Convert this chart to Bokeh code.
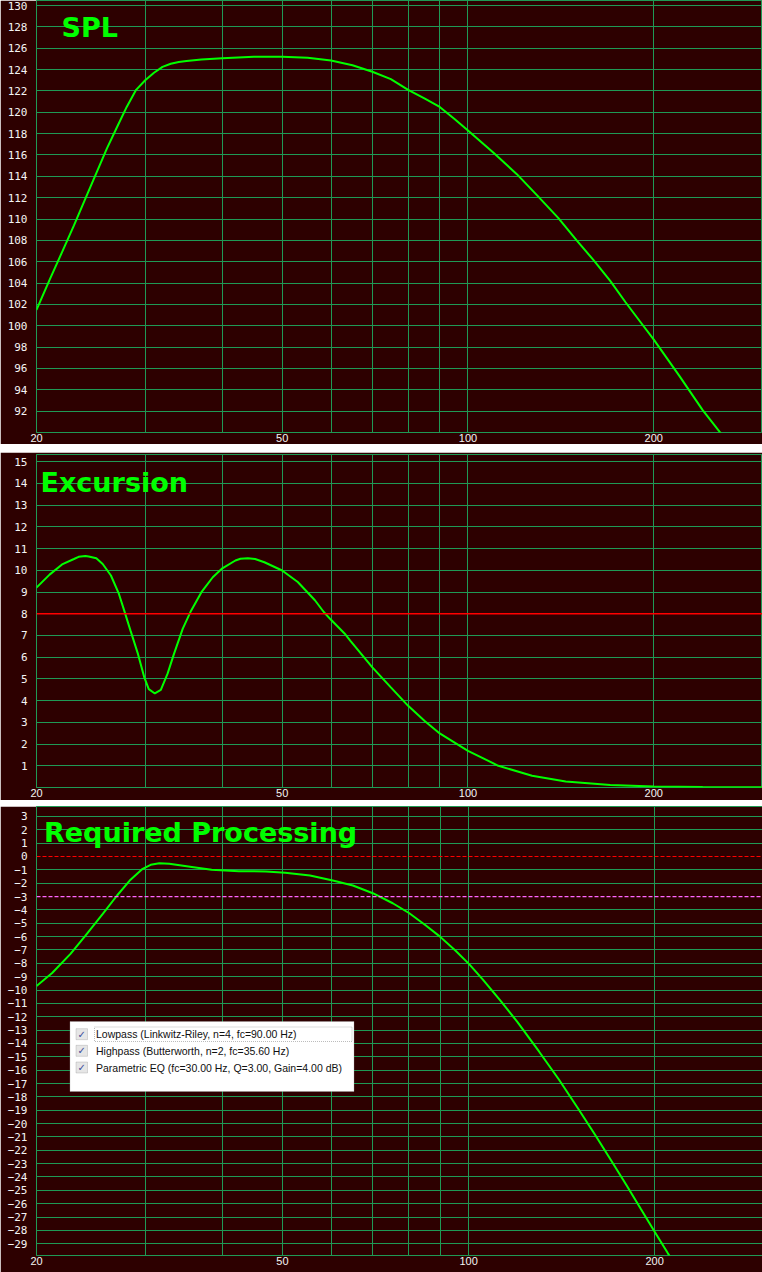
from bokeh.plotting import figure
from bokeh.models import FixedTicker, NumeralTickFormatter, Span, Label, BoxAnnotation, Spacer
from bokeh.layouts import column
from bokeh.embed import file_html
from bokeh.resources import INLINE

# ---------------- data ----------------
spl_freq = [20, 21, 22, 23, 24, 25, 26, 27, 28, 29, 30, 31, 32, 33, 34, 35, 37, 40, 45,
            50, 55, 60, 65, 70, 75, 80, 85, 90, 95, 100, 110, 120, 130, 140, 150, 160,
            170, 180, 190, 200, 220, 240, 257, 262]
spl_db = [101.5, 104.3, 106.9, 109.4, 111.9, 114.3, 116.6, 118.6, 120.5, 122.1, 123.0,
          123.7, 124.25, 124.55, 124.7, 124.8, 124.95, 125.05, 125.2, 125.2, 125.1, 124.85,
          124.4, 123.8, 123.1, 122.1, 121.3, 120.5, 119.4, 118.3, 116.2, 114.2, 112.1,
          110.1, 108.0, 106.1, 104.2, 102.2, 100.4, 98.7, 95.3, 92.1, 89.9, 89.2]

exc_freq = [20, 21, 22, 23, 23.4, 24, 24.3, 25, 25.6, 26.4, 27.2, 27.8, 28.4, 29.2, 29.9,
            30.4, 31.1, 31.8, 32.6, 33.4, 34.5, 35.6, 37, 38.6, 40, 42, 42.8, 44, 45.2,
            46.8, 50, 53, 56.5, 58.4, 60, 63.1, 64.5, 70, 75, 80, 85, 90, 100, 112, 127,
            144, 170, 200, 240, 300]
exc_mm = [9.2, 9.8, 10.27, 10.52, 10.62, 10.66, 10.63, 10.55, 10.29, 9.76, 8.91, 8.06,
          7.22, 6.15, 5.07, 4.53, 4.33, 4.49, 5.23, 6.15, 7.30, 8.14, 8.99, 9.68, 10.09,
          10.45, 10.53, 10.55, 10.52, 10.37, 9.99, 9.46, 8.62, 8.08, 7.72, 7.09, 6.75,
          5.53, 4.61, 3.76, 3.07, 2.49, 1.69, 1.00, 0.54, 0.28, 0.12, 0.05, 0.02, 0.01]

proc_freq = [20, 21.2, 22.7, 24, 25.6, 27, 28.3, 29.7, 30.6, 31.6, 32.8, 35.9, 38.4, 42.5,
             47, 50.5, 55.4, 60.3, 65, 70, 75.4, 80.2, 85.3, 89.9, 95.2, 100.3, 105.4,
             112.6, 120, 130, 140, 150, 160, 170, 180, 190, 200, 210, 216]
proc_db = [-9.7, -8.72, -7.29, -5.92, -4.29, -2.92, -1.80, -0.92, -0.62, -0.50, -0.55,
           -0.80, -1.00, -1.10, -1.12, -1.22, -1.42, -1.80, -2.17, -2.75, -3.50, -4.25,
           -5.17, -6.00, -7.04, -8.08, -9.2, -10.8, -12.4, -14.6, -16.7, -18.8, -20.8,
           -22.75, -24.6, -26.4, -28.1, -29.7, -30.6]

x_ticks = [20, 50, 100, 200]
x_minor = [30, 40, 60, 70, 80, 90]
spl_ticks = list(range(92, 131, 2))
exc_ticks = list(range(1, 16))
proc_ticks = list(range(-29, 4))
excursion_limit = 8
proc_zero = 0
proc_minus3 = -3
titles = ["SPL", "Excursion", "Required Processing"]
filters = ["Lowpass (Linkwitz-Riley, n=4, fc=90.00 Hz)",
           "Highpass (Butterworth, n=2, fc=35.60 Hz)",
           "Parametric EQ (fc=30.00 Hz, Q=3.00, Gain=4.00 dB)"]

# ---------------- style ----------------
BG = "#2d0000"
GRID = "#1f9a55"
CURVE = "#00ff00"
LABEL = "#f4f4f4"
XR = (20, 300)


def panel(left_b, frame_w, frame_h, top_b, bottom_b, y_range, y_ticks, skip=()):
    p = figure(frame_width=frame_w, frame_height=frame_h, x_axis_type="log", x_range=XR,
               y_range=y_range, output_backend="svg", toolbar_location=None,
               min_border_left=left_b, min_border_right=0, min_border_top=top_b,
               min_border_bottom=bottom_b, background_fill_color=BG, border_fill_color=BG,
               outline_line_color=GRID, outline_line_width=1)
    p.xaxis.ticker = FixedTicker(ticks=x_ticks, minor_ticks=x_minor)
    p.xaxis.formatter = NumeralTickFormatter(format="0")
    p.yaxis.ticker = FixedTicker(ticks=y_ticks)
    p.ygrid.ticker = FixedTicker(ticks=[t for t in y_ticks if t not in skip])
    for ax in (p.xaxis[0], p.yaxis[0]):
        ax.axis_line_color = None
        ax.major_tick_line_color = None
        ax.minor_tick_line_color = None
        ax.major_tick_out = 0
        ax.major_tick_in = 0
        ax.minor_tick_out = 0
        ax.major_label_text_color = LABEL
    p.xaxis.major_label_text_font = "Liberation Sans"
    p.xaxis.major_label_text_font_size = "11px"
    p.xaxis.major_label_standoff = 1
    p.yaxis.major_label_text_font = "DejaVu Sans Mono"
    p.yaxis.major_label_text_font_size = "11px"
    p.yaxis.major_label_standoff = 9
    p.xgrid.grid_line_color = GRID
    p.xgrid.minor_grid_line_color = GRID
    p.ygrid.grid_line_color = GRID
    p.xgrid.grid_line_width = 1
    p.ygrid.grid_line_width = 1
    return p


def title(p, text, x, y):
    p.add_layout(Label(x=x, y=y, x_units="screen", y_units="screen", text=text,
                       text_font="DejaVu Sans", text_font_style="bold",
                       text_font_size="27px", text_color=CURVE,
                       text_baseline="alphabetic"))


# ---- SPL ----  (page y 0..444, frame 0..432)
FH1 = 432
p1 = panel(36, 726, FH1, 0, 12, (90, 130.47), spl_ticks)
p1.line(spl_freq, spl_db, line_color=CURVE, line_width=2)
title(p1, titles[0], 25, FH1 - 27.3)

# ---- Excursion ----  (page y 452..800, frame 454..787)
FH2 = 333
p2 = panel(36, 726, FH2, 2, 13, (0, 15.33), exc_ticks, skip=(excursion_limit,))
p2.add_layout(Span(location=excursion_limit, dimension="width", line_color="#ff0000",
                   line_width=1.6))
p2.line(exc_freq, exc_mm, line_color=CURVE, line_width=2)
title(p2, titles[1], 4, FH2 - 27.7)

# ---- Required processing ----  (page y 806..1272, frame 806..1255)
FH3 = 449
p3 = panel(35, 727, FH3, 0, 17, (-29.88, 3.7443), proc_ticks, skip=(proc_zero, proc_minus3))
p3.add_layout(Span(location=proc_zero, dimension="width", line_color="#ff0000",
                   line_width=1.2, line_dash="4 2"))
p3.add_layout(Span(location=proc_minus3, dimension="width", line_color="#ff66ff",
                   line_width=1.2, line_dash="4 2"))
p3.line(proc_freq, proc_db, line_color=CURVE, line_width=2)
title(p3, titles[2], 7.5, FH3 - 25.7)

# filter list box (page x 68..352, y 1021..1091)
bl, bt = 33.5, FH3 - 215
bw, bh = 284, 70
p3.add_layout(BoxAnnotation(left=bl, right=bl + bw, top=bt, bottom=bt - bh,
                            left_units="screen", right_units="screen",
                            top_units="screen", bottom_units="screen",
                            fill_color="white", fill_alpha=1.0,
                            line_color="#a0a0a0", line_width=1, level="overlay"))
p3.add_layout(BoxAnnotation(left=bl + 24.5, right=bl + 282, top=bt - 5.5, bottom=bt - 20,
                            left_units="screen", right_units="screen",
                            top_units="screen", bottom_units="screen",
                            fill_alpha=0, line_color="#202020", line_width=1,
                            line_dash="1 1", level="overlay"))
row_offsets = [12.7, 29.3, 46]
for txt, off in zip(filters, row_offsets):
    cy = bt - off
    p3.add_layout(BoxAnnotation(left=bl + 6, right=bl + 17.5, top=cy + 5.5, bottom=cy - 5.5,
                                left_units="screen", right_units="screen",
                                top_units="screen", bottom_units="screen",
                                fill_color="#e6e6e6", fill_alpha=1.0,
                                line_color="#8c8c8c", line_width=1, level="overlay"))
    p3.add_layout(Label(x=bl + 11.8, y=cy, x_units="screen", y_units="screen", text="\u2713",
                        text_font="DejaVu Sans", text_font_style="bold",
                        text_font_size="10px", text_color="#3c4c9c",
                        text_align="center", text_baseline="middle", level="overlay"))
    p3.add_layout(Label(x=bl + 26, y=cy, x_units="screen", y_units="screen", text=txt,
                        text_font="Liberation Sans", text_font_size="10.5px",
                        text_color="#101010", text_baseline="middle", level="overlay"))

layout = column(p1, Spacer(height=8), p2, Spacer(height=6), p3)
open("out.html", "w").write(file_html(layout, INLINE))
